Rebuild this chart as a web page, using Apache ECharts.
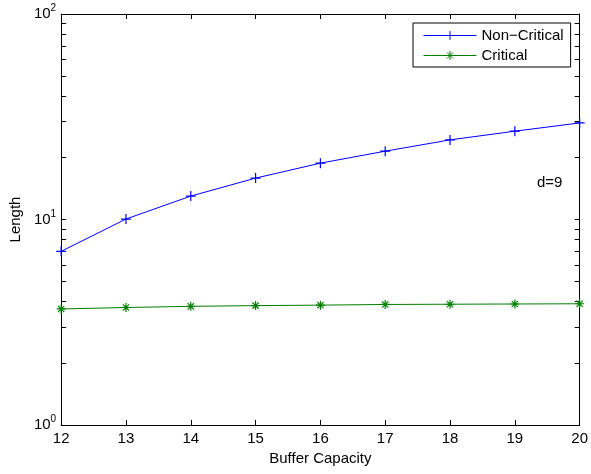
<!DOCTYPE html>
<html><head><meta charset="utf-8">
<script src="https://cdn.jsdelivr.net/npm/echarts@6/dist/echarts.min.js"></script>
<style>html,body{margin:0;padding:0;background:#fff}#c{width:591px;height:474px}</style>
</head><body><div id="c"></div>
<script>
const categories = [12, 13, 14, 15, 16, 17, 18, 19, 20];
const nonCritical = [7.0, 10.05, 13.0, 15.9, 18.8, 21.5, 24.4, 26.9, 29.5];
const critical = [3.67, 3.73, 3.78, 3.81, 3.83, 3.86, 3.87, 3.88, 3.89];
const yLabelValues = [1, 10, 100];
const yTickValues = [1,2,3,4,5,6,7,8,9,10,20,30,40,50,60,70,80,90,100];
const seriesNames = ['Non\u2212Critical', 'Critical'];
const annotation = 'd=9';

const FONT = 'Liberation Sans, Arial, Helvetica, sans-serif';
const plusPath = 'path://M0,-1L0,1M-1,0L1,0';
const starPath = 'path://M0,-1L0,1M-1,0L1,0M-0.7,-0.7L0.7,0.7M-0.7,0.7L0.7,-0.7';

const chart = echarts.init(document.getElementById('c'), null, {renderer: 'canvas'});
const axisLine = {show: true, lineStyle: {color: '#000', width: 1}};
const tick = {show: true, inside: true, length: 5, lineStyle: {color: '#000', width: 1}};
chart.setOption({
  animation: false,
  backgroundColor: '#fff',
  grid: {left: 60, right: 11, top: 14, bottom: 49, containLabel: false},
  legend: {
    orient: 'vertical', left: 413, top: 23,
    data: seriesNames,
    backgroundColor: '#fff', borderColor: '#000', borderWidth: 1,
    padding: [5, 7, 4, 10], itemWidth: 53, itemHeight: 11, itemGap: 5,
    itemStyle: {borderWidth: 1},
    lineStyle: {width: 1},
    textStyle: {fontFamily: FONT, fontSize: 15, color: '#000'}
  },
  xAxis: [{
    type: 'value', min: 12, max: 20, interval: 1, position: 'bottom',
    axisLine, axisTick: tick, splitLine: {show: false},
    axisLabel: {fontFamily: FONT, fontSize: 15, color: '#000', margin: 6},
    name: 'Buffer Capacity', nameLocation: 'middle', nameGap: 25,
    nameTextStyle: {fontFamily: FONT, fontSize: 15, color: '#000'}
  }, {
    type: 'value', min: 12, max: 20, interval: 1, position: 'top',
    axisLine, axisTick: tick, axisLabel: {show: false}, splitLine: {show: false}
  }],
  yAxis: [{
    type: 'log', logBase: 10, min: 1, max: 100, position: 'left',
    axisLine, axisTick: Object.assign({}, tick, {customValues: yTickValues}),
    splitLine: {show: false},
    axisLabel: {
      customValues: yLabelValues, margin: 5,
      formatter: v => '{b|10}{s|' + Math.round(Math.log10(v)) + '}',
      rich: {
        b: {fontFamily: FONT, fontSize: 15, color: '#000'},
        s: {fontFamily: FONT, fontSize: 10, color: '#000', padding: [0, 0, 11, 0]}
      }
    },
    name: 'Length', nameLocation: 'middle', nameGap: 35, nameRotate: 90,
    nameTextStyle: {fontFamily: FONT, fontSize: 15, color: '#000'}
  }, {
    type: 'log', logBase: 10, min: 1, max: 100, position: 'right',
    axisLine, axisTick: Object.assign({}, tick, {customValues: yTickValues}),
    axisLabel: {show: false}, splitLine: {show: false}
  }],
  graphic: [{
    type: 'text', left: 537, top: 175,
    style: {text: annotation, font: '15px ' + FONT, fill: '#000'}
  }],
  series: [{
    name: seriesNames[0], type: 'line', xAxisIndex: 0, yAxisIndex: 0,
    data: categories.map((c, i) => [c, nonCritical[i]]),
    color: '#0000ff',
    symbol: plusPath, symbolSize: 10, showAllSymbol: true,
    lineStyle: {color: '#0000ff', width: 1},
    itemStyle: {color: '#0000ff', borderColor: '#0000ff', borderWidth: 1.2}
  }, {
    name: seriesNames[1], type: 'line', xAxisIndex: 0, yAxisIndex: 0,
    data: categories.map((c, i) => [c, critical[i]]),
    color: '#008000',
    symbol: starPath, symbolSize: 9, showAllSymbol: true,
    lineStyle: {color: '#008000', width: 1},
    itemStyle: {color: '#008000', borderColor: '#008000', borderWidth: 1.2}
  }]
});
</script></body></html>
